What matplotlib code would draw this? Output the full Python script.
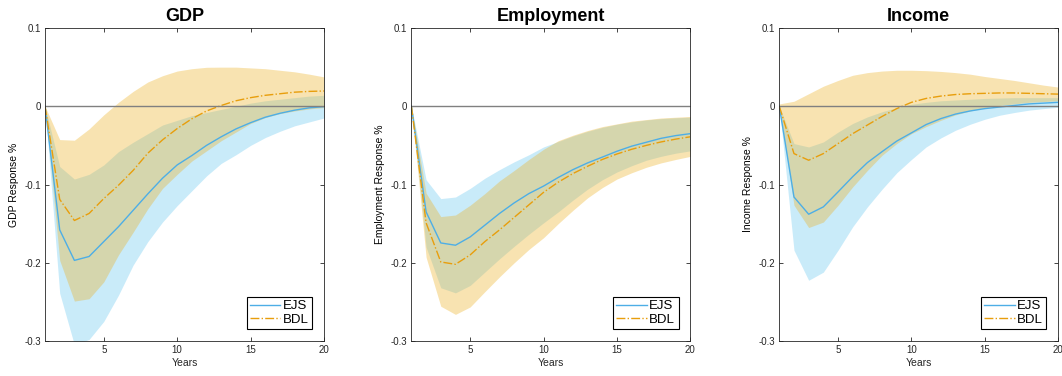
import matplotlib
matplotlib.use("Agg")
import matplotlib.pyplot as plt

plt.rcParams['font.family'] = ['Liberation Sans', 'DejaVu Sans']

years = list(range(1, 21))

# GDP
ejs_gdp = [0, -0.158, -0.197, -0.192, -0.173, -0.154, -0.133, -0.112, -0.092, -0.075,
           -0.063, -0.050, -0.039, -0.029, -0.021, -0.014, -0.009, -0.005, -0.002, -0.0005]
ejs_gdp_hi = [0, -0.077, -0.093, -0.087, -0.075, -0.058, -0.046, -0.035, -0.024, -0.018,
              -0.012, -0.008, -0.004, 0.000, 0.004, 0.007, 0.009, 0.011, 0.013, 0.014]
ejs_gdp_lo = [0, -0.239, -0.305, -0.298, -0.275, -0.2415, -0.203, -0.173, -0.148, -0.127,
              -0.108, -0.089, -0.073, -0.062, -0.050, -0.040, -0.032, -0.025, -0.020, -0.015]
bdl_gdp = [0, -0.119, -0.146, -0.137, -0.118, -0.101, -0.082, -0.060, -0.043, -0.0285,
           -0.016, -0.006, 0.001, 0.007, 0.011, 0.014, 0.016, 0.018, 0.019, 0.0195]
bdl_gdp_hi = [0, -0.0426, -0.0434, -0.029, -0.011, 0.005, 0.019, 0.031, 0.039, 0.045,
              0.048, 0.0498, 0.050, 0.050, 0.049, 0.048, 0.046, 0.044, 0.041, 0.0375]
bdl_gdp_lo = [0, -0.197, -0.249, -0.246, -0.2245, -0.190, -0.161, -0.131, -0.105, -0.087,
              -0.070, -0.057, -0.044, -0.033, -0.022, -0.0145, -0.0094, -0.006, -0.0034, -0.0017]

# Employment
ejs_emp = [0, -0.135, -0.1747, -0.1776, -0.167, -0.152, -0.137, -0.1235, -0.1116, -0.102,
           -0.091, -0.081, -0.0724, -0.065, -0.0575, -0.051, -0.046, -0.041, -0.0375, -0.035]
ejs_emp_hi = [0, -0.094, -0.118, -0.116, -0.105, -0.092, -0.081, -0.071, -0.062, -0.052,
              -0.045, -0.038, -0.032, -0.027, -0.023, -0.020, -0.0175, -0.0158, -0.0147, -0.014]
ejs_emp_lo = [0, -0.180, -0.232, -0.2385, -0.229, -0.212, -0.195, -0.179, -0.1636, -0.149,
              -0.135, -0.120, -0.106, -0.094, -0.084, -0.076, -0.069, -0.064, -0.060, -0.057]
bdl_emp = [0, -0.149, -0.199, -0.202, -0.190, -0.173, -0.158, -0.142, -0.126, -0.110,
           -0.097, -0.086, -0.0767, -0.068, -0.061, -0.055, -0.050, -0.0456, -0.042, -0.039]
bdl_emp_hi = [0, -0.111, -0.141, -0.139, -0.1265, -0.1116, -0.0954, -0.082, -0.068, -0.055,
              -0.044, -0.037, -0.031, -0.026, -0.0225, -0.019, -0.017, -0.015, -0.014, -0.013]
bdl_emp_lo = [0, -0.193, -0.2556, -0.266, -0.2565, -0.237, -0.218, -0.200, -0.183, -0.168,
              -0.150, -0.133, -0.117, -0.104, -0.093, -0.085, -0.078, -0.0724, -0.068, -0.064]

# Income
ejs_inc = [0, -0.116, -0.138, -0.1286, -0.1095, -0.090, -0.072, -0.058, -0.0445, -0.034,
           -0.0234, -0.0158, -0.010, -0.006, -0.003, -0.001, 0.001, 0.003, 0.004, 0.005]
ejs_inc_hi = [0, -0.0477, -0.052, -0.0456, -0.033, -0.022, -0.0136, -0.007, -0.0017, 0.0026,
              0.005, 0.007, 0.008, 0.009, 0.010, 0.0105, 0.011, 0.011, 0.011, 0.011]
ejs_inc_lo = [0, -0.184, -0.2224, -0.212, -0.184, -0.154, -0.1286, -0.106, -0.085, -0.068,
              -0.052, -0.0405, -0.0307, -0.023, -0.0166, -0.0115, -0.008, -0.005, -0.003, -0.0013]
bdl_inc = [0, -0.0605, -0.069, -0.0605, -0.0477, -0.035, -0.024, -0.013, -0.003, 0.005,
           0.010, 0.013, 0.015, 0.016, 0.0165, 0.017, 0.017, 0.0165, 0.016, 0.0155]
bdl_inc_hi = [0.003, 0.0064, 0.016, 0.0256, 0.033, 0.0396, 0.043, 0.045, 0.046, 0.046,
              0.0455, 0.0445, 0.043, 0.041, 0.038, 0.0355, 0.033, 0.030, 0.027, 0.0245]
bdl_inc_lo = [0, -0.1265, -0.155, -0.148, -0.1265, -0.103, -0.082, -0.0626, -0.0477, -0.035,
              -0.026, -0.018, -0.011, -0.006, -0.002, 0.001, 0.003, 0.005, 0.006, 0.007]

titles = ['GDP', 'Employment', 'Income']
ylabels = ['GDP Response %', 'Employment Response %', 'Income Response %']
panels = [
    (ejs_gdp, ejs_gdp_lo, ejs_gdp_hi, bdl_gdp, bdl_gdp_lo, bdl_gdp_hi),
    (ejs_emp, ejs_emp_lo, ejs_emp_hi, bdl_emp, bdl_emp_lo, bdl_emp_hi),
    (ejs_inc, ejs_inc_lo, ejs_inc_hi, bdl_inc, bdl_inc_lo, bdl_inc_hi),
]
yticks = [-0.3, -0.2, -0.1, 0, 0.1]
ytick_labels = ['-0.3', '-0.2', '-0.1', '0', '0.1']

ejs_color = '#4DAEE6'
bdl_color = '#E89E0C'
ejs_fill = '#4DBEEE'
bdl_fill = '#EDB120'
axis_color = '#262626'

fig = plt.figure(figsize=(10.62, 3.76), dpi=100)
lefts = [0.0424, 0.3874, 0.7338]

for i in range(3):
    ejs, ejs_lo, ejs_hi, bdl, bdl_lo, bdl_hi = panels[i]
    ax = fig.add_axes([lefts[i], 0.0931, 0.2627, 0.8324])

    ax.fill_between(years, ejs_lo, ejs_hi, color=ejs_fill, alpha=0.3, linewidth=0)
    ax.plot(years, ejs, color=ejs_color, linewidth=1.0, label='EJS')
    ax.fill_between(years, bdl_lo, bdl_hi, color=bdl_fill, alpha=0.35, linewidth=0)
    ax.plot(years, bdl, color=bdl_color, linewidth=1.0, linestyle='-.', label='BDL')
    ax.axhline(0, color='#808080', linewidth=1.0)

    ax.set_xlim(1, 20)
    ax.set_ylim(-0.3, 0.1)
    ax.set_xticks([5, 10, 15, 20])
    ax.set_yticks(yticks)
    ax.set_yticklabels(ytick_labels)
    ax.tick_params(direction='in', length=3, width=0.6, labelsize=7, colors=axis_color,
                   top=True, right=True, pad=3)
    for s in ax.spines.values():
        s.set_color(axis_color)
        s.set_linewidth(0.6)

    ax.set_title(titles[i], fontsize=13, fontweight='bold', pad=5)
    ax.set_xlabel('Years', fontsize=7.5, color=axis_color, labelpad=2)
    ax.set_ylabel(ylabels[i], fontsize=7.5, color='black', labelpad=4)

    leg = ax.legend(loc='lower right', fontsize=9.5, handlelength=2.3, handletextpad=0.2,
                    borderpad=0.25, labelspacing=0.1, fancybox=False, framealpha=1,
                    borderaxespad=0.9)
    leg.get_frame().set_edgecolor('black')
    leg.get_frame().set_linewidth(0.8)

fig.savefig('out.png', dpi=100)
